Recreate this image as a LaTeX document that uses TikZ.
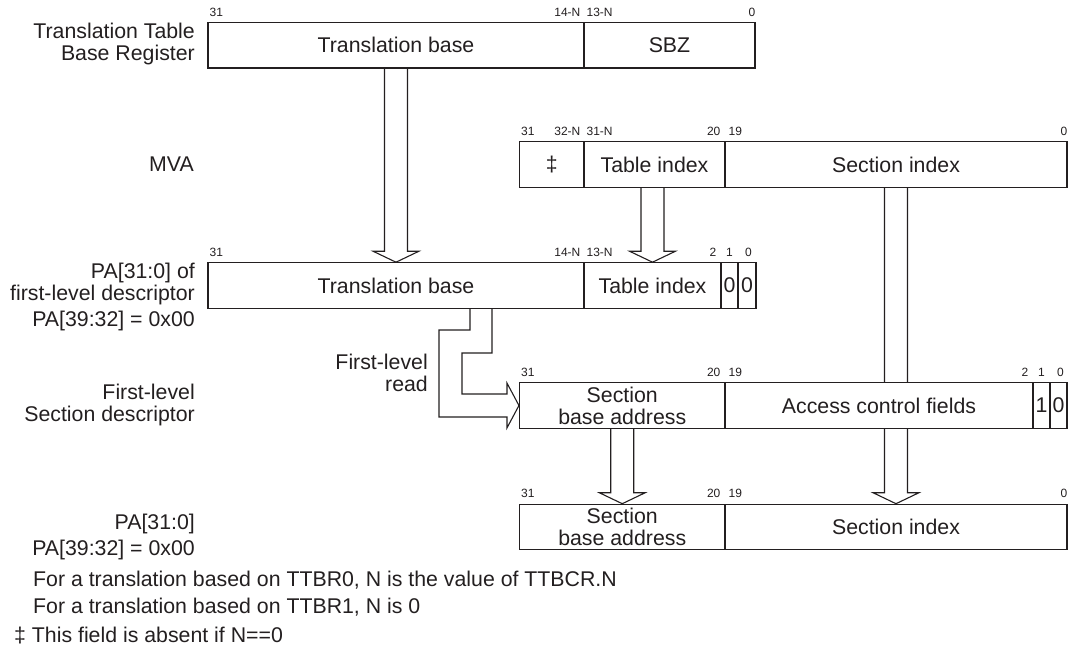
\documentclass[tikz,border=0pt]{standalone}
\usepackage{fontspec}
\setmainfont{Liberation Sans}
\usetikzlibrary{calc,backgrounds}
\definecolor{ink}{RGB}{35,31,32}
\newcommand\hollowdown[2]{%
  \draw[hollow] ($(#2.north |- #1.south)+(-11.5,0)$) -- ($(#2.north)+(-11.5,-11)$) -- ($(#2.north)+(-23,-11)$) -- (#2.north) -- ($(#2.north)+(23,-11)$) -- ($(#2.north)+(11.5,-11)$) -- ($(#2.north |- #1.south)+(11.5,0)$);}
\begin{document}
\begin{tikzpicture}[x=1pt,y=-1pt,
  field/.style={draw=ink, line width=1.1pt, fill=white, minimum height=45.5pt, inner sep=0pt, text=ink, font=\fontsize{21.3}{22}\selectfont, align=center},
  bit/.style={inner sep=0pt, text=ink, font=\fontsize{12}{14}\selectfont},
  lbl/.style={inner sep=0pt, text=ink, font=\fontsize{21.3}{22}\selectfont, align=right, anchor=east},
  note/.style={inner sep=0pt, text=ink, font=\fontsize{21.3}{22}\selectfont, anchor=west},
  hollow/.style={draw=ink, line width=1.1pt, fill=white, line join=miter}]
\useasboundingbox (0,0) rectangle (1072,661);

% ---- Row 1: TTBR
\node[field, minimum width=376pt] (ttbase) at (396,45.25) {Translation base};
\node[field, minimum width=171pt] (sbz) at (669.5,45.25) {SBZ};
% ---- Row 2: MVA
\node[field, minimum width=64.5pt] (dagger) at (551.75,164.5) {‡};
\node[field, minimum width=141pt] (mvati) at (654.5,164.5) {Table index};
\node[field, minimum width=342pt] (mvasi) at (896,164.5) {Section index};
% ---- Row 3: PA of first-level descriptor
\node[field, minimum width=376pt] (patb) at (396,285.5) {Translation base};
\node[field, minimum width=137pt] (pati) at (652.5,285.5) {Table index};
\node[field, minimum width=17pt] (pa1) at (729.5,285.5) {0};
\node[field, minimum width=18pt] (pa0) at (747,285.5) {0};
% ---- Row 4: first-level section descriptor
\node[field, minimum width=205.5pt] (sdbase) at (622.25,405.5) {Section\\base address};
\node[field, minimum width=308pt] (sdacf) at (879,405.5) {Access control fields};
\node[field, minimum width=17pt] (sd1) at (1041.5,405.5) {1};
\node[field, minimum width=17pt] (sd0) at (1058.5,405.5) {0};
% ---- Row 5: PA
\node[field, minimum width=205.5pt] (fbase) at (622.25,527) {Section\\base address};
\node[field, minimum width=342pt] (fsi) at (896,527) {Section index};

% ---- bit numbers
\node[bit, anchor=west] (r1a) at ($(ttbase.north west)+(2,-10)$) {31};
\node[bit, anchor=east] (r1b) at ($(ttbase.north east)+(-4,-10)$) {14-N};
\node[bit, anchor=west] (r1c) at ($(sbz.north west)+(3,-10)$) {13-N};
\node[bit, anchor=east] (r1d) at ($(sbz.north east)+(0,-10)$) {0};

\node[bit, anchor=west] (r2a) at ($(dagger.north west)+(2,-10)$) {31};
\node[bit, anchor=east] (r2b) at ($(dagger.north east)+(-4,-10)$) {32-N};
\node[bit, anchor=west] (r2c) at ($(mvati.north west)+(3,-10)$) {31-N};
\node[bit, anchor=east] (r2d) at ($(mvati.north east)+(-5,-10)$) {20};
\node[bit, anchor=west] (r2e) at ($(mvasi.north west)+(4,-10)$) {19};
\node[bit, anchor=east] (r2f) at ($(mvasi.north east)+(0,-10)$) {0};

\node[bit, anchor=west] (r3a) at ($(patb.north west)+(2,-10)$) {31};
\node[bit, anchor=east] (r3b) at ($(patb.north east)+(-4,-10)$) {14-N};
\node[bit, anchor=west] (r3c) at ($(pati.north west)+(3,-10)$) {13-N};
\node[bit, anchor=east] (r3d) at ($(pati.north east)+(-5,-10)$) {2};
\node[bit] (r3e) at ($(pa1.north)+(0,-10)$) {1};
\node[bit] (r3f) at ($(pa0.north)+(1.5,-10)$) {0};

\node[bit, anchor=west] (r4a) at ($(sdbase.north west)+(2,-10)$) {31};
\node[bit, anchor=east] (r4b) at ($(sdbase.north east)+(-5,-10)$) {20};
\node[bit, anchor=west] (r4c) at ($(sdacf.north west)+(4,-10)$) {19};
\node[bit, anchor=east] (r4d) at ($(sdacf.north east)+(-5,-10)$) {2};
\node[bit] (r4e) at ($(sd1.north)+(0,-10)$) {1};
\node[bit] (r4f) at ($(sd0.north)+(2,-10)$) {0};

\node[bit, anchor=west] (r5a) at ($(fbase.north west)+(2,-10)$) {31};
\node[bit, anchor=east] (r5b) at ($(fbase.north east)+(-5,-10)$) {20};
\node[bit, anchor=west] (r5c) at ($(fsi.north west)+(4,-10)$) {19};
\node[bit, anchor=east] (r5d) at ($(fsi.north east)+(0,-10)$) {0};

% ---- left labels
\node[lbl] (l1) at (195,43.5) {Translation Table\\Base Register};
\node[lbl] (l2) at (194,164) {MVA};
\node[lbl] (l3) at (195,284) {PA[31:0] of\\first-level descriptor};
\node[lbl] (l3b) at (195,321) {PA[39:32] = 0x00};
\node[lbl] (l4) at (195,405) {First-level\\Section descriptor};
\node[lbl] (l4b) at (428,372.5) {First-level\\read};
\node[lbl] (l5) at (195,524) {PA[31:0]};
\node[lbl] (l5b) at (195,550) {PA[39:32] = 0x00};

% ---- notes
\node[note] (n1) at (33,580) {For a translation based on TTBR0, N is the value of TTBCR.N};
\node[note] (n2) at (33,607.5) {For a translation based on TTBR1, N is 0};
\node[note] (n3) at (14,635.5) {‡ This field is absent if N==0};

% ---- hollow arrows (behind boxes)
\coordinate (fo) at ($(sdbase.west)+(-49,0)$);
\coordinate (fi) at ($(sdbase.west)+(-27,0)$);
\begin{pgfonlayer}{background}
\hollowdown{ttbase}{patb}
\hollowdown{mvati}{pati}
\hollowdown{mvasi}{fsi}
\hollowdown{sdbase}{fbase}
\draw[hollow] (fo |- patb.south) -- ($(sdbase.west)+(-49,-75.5)$) -- ($(sdbase.west)+(-80,-75.5)$)
  -- ($(sdbase.west)+(-80,11.5)$) -- ($(sdbase.west)+(-12,11.5)$) -- ($(sdbase.west)+(-12,22.5)$)
  -- (sdbase.west) -- ($(sdbase.west)+(-12,-22.5)$) -- ($(sdbase.west)+(-12,-11.5)$)
  -- ($(sdbase.west)+(-57,-11.5)$) -- ($(sdbase.west)+(-57,-52.5)$) -- ($(sdbase.west)+(-27,-52.5)$)
  -- (fi |- patb.south);
\end{pgfonlayer}
\end{tikzpicture}
\end{document}
